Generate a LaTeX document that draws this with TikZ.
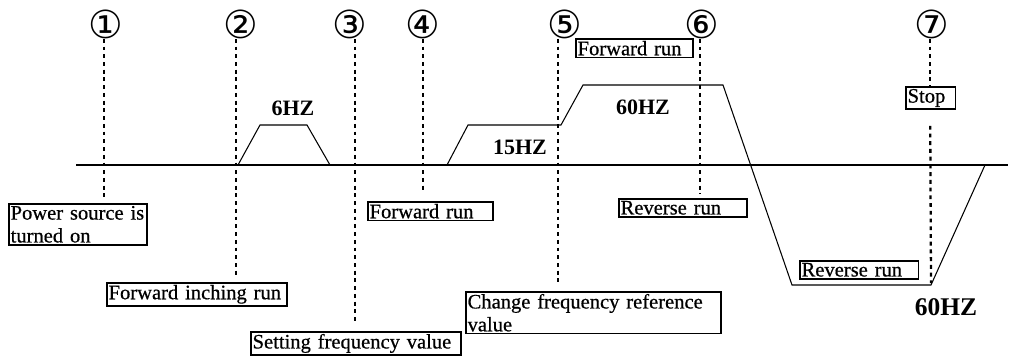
\documentclass[tikz,border=0pt]{standalone}
\usepackage{fontspec}
\setmainfont{Liberation Serif}
\newfontfamily\boxfont[FakeBold=0.6]{Liberation Serif}
\newfontfamily\circfont{DejaVu Sans}
\usetikzlibrary{positioning}

\tikzset{
  mark line/.style={line width=1.3pt, dash pattern=on 2.2pt off 2.2pt},
  state box/.style={draw, line width=1pt, inner xsep=1pt, inner ysep=1.2pt,
    anchor=north west, align=left, font=\boxfont\fontsize{11.7}{13}\selectfont},
  freq label/.style={font=\bfseries\fontsize{12.5}{13}\selectfont},
  step num/.style={font=\circfont\fontsize{22}{22}\selectfont, inner sep=0pt},
  wave/.style={line width=0.6pt}
}

\begin{document}
\begin{tikzpicture}[x=0.02cm,y=-0.02cm]
\useasboundingbox (0,0) rectangle (1011,356);

% Time axis
\draw[line width=0.8pt] (76,165) -- (1008,165);

% Frequency curve
\draw[wave] (238,165) -- (260,125) -- (307,125) -- (330,165);
\draw[wave] (447,165) -- (468,125) -- (561,125) -- (583,85) -- (723,85)
  -- (792,285) -- (931,285) -- (985,165);

% Step numbers
\node[step num] (n1) at (106,24) {①};
\node[step num] (n2) at (241,24) {②};
\node[step num] (n3) at (350,24) {③};
\node[step num] (n4) at (423,24) {④};
\node[step num] (n5) at (565,24) {⑤};
\node[step num] (n6) at (702,24) {⑥};
\node[step num] (n7) at (932,24) {⑦};

% Boxes
\node[state box, text width=2.7cm] (power) at (8,203) {Power source is\\turned on};
\node[state box, text width=3.54cm] (inch) at (106,282) {Forward inching run};
\node[state box, text width=4.13cm] (setf) at (250,331) {Setting frequency value};
\node[state box, text width=2.44cm] (fwd) at (367,201) {Forward run};
\node[state box, text width=5.04cm] (chg) at (465,291) {Change frequency reference\\value};
\node[state box, text width=2.5cm] (rev) at (618,198) {Reverse run};
\node[state box, text width=2.3cm] (revlow) at (799,260) {Reverse run};
\node[state box, text width=2.28cm] (fwdtop) at (575,38) {Forward run};
\node[state box, text width=0.92cm] (stop) at (905,86) {Stop};

% Frequency values
\node[freq label] (f6) at (293,108) {6HZ};
\node[freq label] (f15) at (520,147) {15HZ};
\node[freq label] (f60) at (643,107) {60HZ};
\node[freq label, font=\bfseries\fontsize{14.5}{15}\selectfont] (f60r) at (946,307) {60HZ};

% Step marks
\coordinate (bot7) at (931,283);
\draw[mark line] ([xshift=-1pt]n1.south) -- ([xshift=-1pt,yshift=2pt]n1.south |- power.north);
\draw[mark line] ([xshift=-3pt]n2.south) -- ([xshift=-3pt,yshift=3pt]n2.south |- inch.north);
\draw[mark line] ([xshift=3pt]n3.south) -- ([xshift=3pt,yshift=5pt]n3.south |- setf.north);
\draw[mark line] (n4.south) -- ([yshift=5pt]n4.south |- fwd.north);
\draw[mark line] ([xshift=-4pt]n5.south) -- ([xshift=-4pt,yshift=5pt]n5.south |- chg.north);
\draw[mark line] ([xshift=-1pt]n6.south) -- ([xshift=-1pt,yshift=2pt]n6.south |- rev.north);
\draw[mark line] ([xshift=-1pt]n7.south) -- ([xshift=-1pt]n7.south |- stop.north);
\draw[mark line] ([xshift=-1pt,yshift=-9pt]n7.south |- stop.south) -- (bot7);

\end{tikzpicture}
\end{document}
